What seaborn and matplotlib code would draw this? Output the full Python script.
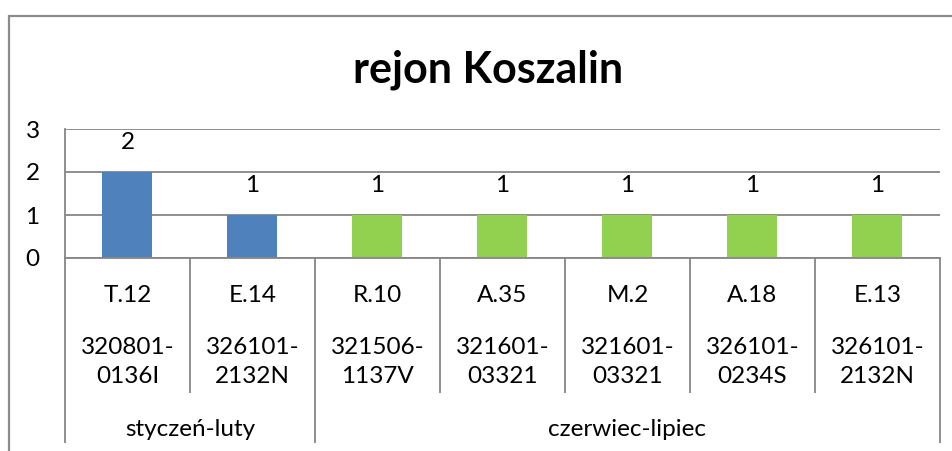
import matplotlib
matplotlib.use("Agg")
import matplotlib.pyplot as plt
import matplotlib.transforms as mtransforms
from matplotlib.patches import Rectangle
import seaborn as sns
import pandas as pd

# ---- data ----
title = "rejon Koszalin"
codes_top = ["T.12", "E.14", "R.10", "A.35", "M.2", "A.18", "E.13"]
codes_bottom = ["320801-\n0136I", "326101-\n2132N", "321506-\n1137V", "321601-\n03321",
                "321601-\n03321", "326101-\n0234S", "326101-\n2132N"]
groups = ["styczeń-luty", "styczeń-luty", "czerwiec-lipiec", "czerwiec-lipiec",
          "czerwiec-lipiec", "czerwiec-lipiec", "czerwiec-lipiec"]
values = [2, 1, 1, 1, 1, 1, 1]
y_ticks = [0, 1, 2, 3]
group_colors = {"styczeń-luty": "#4F81BD", "czerwiec-lipiec": "#92D050"}

df = pd.DataFrame({"cat": codes_top, "val": values, "group": groups})

sns.set_style("white")
plt.rcParams["font.family"] = ["Lato", "DejaVu Sans"]
plt.rcParams["text.color"] = "black"
plt.rcParams["ytick.labelcolor"] = "black"

W, H = 953, 451
FS = 17.5
fig = plt.figure(figsize=(W / 100, H / 100), dpi=100)
fig.patch.set_facecolor("white")

# outer chart frame
top = 1 - 16 / H
frame = Rectangle((9 / W, -0.2), 1.2, top + 0.2, transform=fig.transFigure,
                  fill=False, edgecolor="#8C8C8C", lw=1.6, clip_on=False)
fig.patches.append(frame)

ax = fig.add_axes([65 / W, 1 - 258 / H, 875 / W, 129 / H])

sns.barplot(data=df, x="cat", y="val", hue="group", palette=group_colors,
            dodge=False, width=0.4, errorbar=None, legend=False, linewidth=0,
            saturation=1, ax=ax)

ax.set_ylim(0, 3)
ax.set_xlim(-0.5, len(codes_top) - 0.5)
ax.set_yticks(y_ticks)
ax.set_yticklabels([str(v) for v in y_ticks], fontsize=FS, color="black")
ax.tick_params(axis="y", length=5.8, width=1.2, pad=12.5, color="#868686", labelcolor="black")
ax.tick_params(axis="x", length=0, labelbottom=False)
ax.set_xlabel("")
ax.set_ylabel("")
ax.set_axisbelow(True)
ax.yaxis.grid(True, color="#868686", lw=1.3)
for s in ["top", "right"]:
    ax.spines[s].set_visible(False)
for s in ["left", "bottom"]:
    ax.spines[s].set_color("#868686")
    ax.spines[s].set_linewidth(1.3)

for cont in ax.containers:
    ax.bar_label(cont, fmt="%d", padding=14, fontsize=FS, color="black")

fig.text(488 / W, 1 - 70 / H, title, ha="center", va="center",
         fontsize=31, fontweight="bold", color="black")

trans = mtransforms.blended_transform_factory(ax.transData, ax.transAxes)
n = len(codes_top)

# category labels
for i in range(n):
    ax.text(i, -0.287, codes_top[i], transform=trans, ha="center", va="center",
            fontsize=FS, color="black")
    lines = codes_bottom[i].split("\n")
    ax.text(i, -0.690, lines[0], transform=trans, ha="center", va="center",
            fontsize=FS, color="black")
    ax.text(i, -0.922, lines[1], transform=trans, ha="center", va="center",
            fontsize=FS, color="black")

# dividers
boundaries = [-0.5] + [i + 0.5 for i in range(n - 1) if groups[i] != groups[i + 1]] + [n - 0.5]
for i in range(n + 1):
    xpos = i - 0.5
    ybot = -1.434 if xpos in boundaries else -1.0465
    ax.plot([xpos, xpos], [0, ybot], transform=trans, color="#868686", lw=1.3,
            clip_on=False, solid_capstyle="butt")

# group labels
uniq = list(dict.fromkeys(groups))
for g in uniq:
    idx = [i for i, gg in enumerate(groups) if gg == g]
    ax.text((idx[0] + idx[-1]) / 2, -1.333, g, transform=trans, ha="center", va="center",
            fontsize=FS, color="black")

fig.savefig("out.png", dpi=100, facecolor="white")
